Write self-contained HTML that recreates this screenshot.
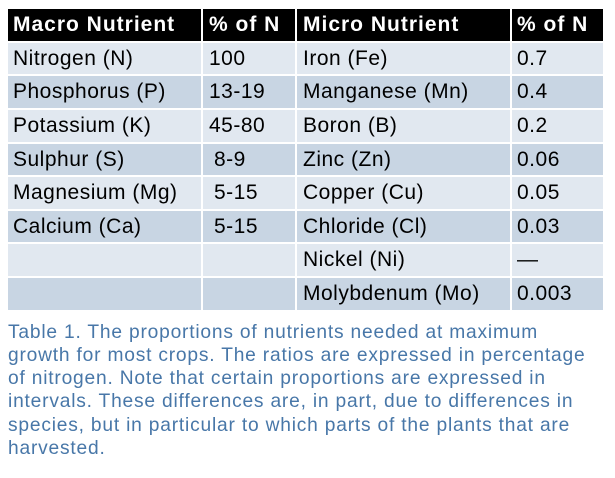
<!DOCTYPE html>
<html>
<head>
<meta charset="utf-8">
<style>
  html, body { margin:0; padding:0; }
  body { width:615px; height:478px; background:#ffffff; position:relative; overflow:hidden;
         font-family:"Liberation Sans", Arial, sans-serif; }
  .c { position:absolute; height:31.6px; line-height:31.6px; font-size:21px; letter-spacing:0.5px;
       color:#000; white-space:nowrap; box-sizing:border-box; }
  .h { background:#000; color:#fff; font-weight:bold; letter-spacing:1px; height:32px; line-height:32px; }
  .l { background:#e1e8f0; }
  .d { background:#c8d5e3; }
  .c1 { left:8px; width:193px; padding-left:5px; }
  .c2 { left:203px; width:92px; padding-left:6px; }
  .c3 { left:297px; width:213px; padding-left:6px; }
  .c4 { left:512px; width:91px; padding-left:5px; }
  .ind { padding-left:11px; }
  .cap { position:absolute; left:8px; top:320.5px; font-size:19.2px; letter-spacing:0.8px; line-height:23.3px;
         color:#4877a8; white-space:nowrap; }
</style>
</head>
<body>
  <!-- header -->
  <div class="c h c1" style="top:9px">Macro Nutrient</div>
  <div class="c h c2" style="top:9px">% of N</div>
  <div class="c h c3" style="top:9px">Micro Nutrient</div>
  <div class="c h c4" style="top:9px">% of N</div>

  <!-- row 1 -->
  <div class="c l c1" style="top:42.8px">Nitrogen (N)</div>
  <div class="c l c2" style="top:42.8px">100</div>
  <div class="c l c3" style="top:42.8px">Iron (Fe)</div>
  <div class="c l c4" style="top:42.8px">0.7</div>

  <!-- row 2 -->
  <div class="c d c1" style="top:76.4px">Phosphorus (P)</div>
  <div class="c d c2" style="top:76.4px">13-19</div>
  <div class="c d c3" style="top:76.4px">Manganese (Mn)</div>
  <div class="c d c4" style="top:76.4px">0.4</div>

  <!-- row 3 -->
  <div class="c l c1" style="top:110px">Potassium (K)</div>
  <div class="c l c2" style="top:110px">45-80</div>
  <div class="c l c3" style="top:110px">Boron (B)</div>
  <div class="c l c4" style="top:110px">0.2</div>

  <!-- row 4 -->
  <div class="c d c1" style="top:143.6px">Sulphur (S)</div>
  <div class="c d c2 ind" style="top:143.6px">8-9</div>
  <div class="c d c3" style="top:143.6px">Zinc (Zn)</div>
  <div class="c d c4" style="top:143.6px">0.06</div>

  <!-- row 5 -->
  <div class="c l c1" style="top:177.2px">Magnesium (Mg)</div>
  <div class="c l c2 ind" style="top:177.2px">5-15</div>
  <div class="c l c3" style="top:177.2px">Copper (Cu)</div>
  <div class="c l c4" style="top:177.2px">0.05</div>

  <!-- row 6 -->
  <div class="c d c1" style="top:210.8px">Calcium (Ca)</div>
  <div class="c d c2 ind" style="top:210.8px">5-15</div>
  <div class="c d c3" style="top:210.8px">Chloride (Cl)</div>
  <div class="c d c4" style="top:210.8px">0.03</div>

  <!-- row 7 -->
  <div class="c l c1" style="top:244.4px"></div>
  <div class="c l c2" style="top:244.4px"></div>
  <div class="c l c3" style="top:244.4px">Nickel (Ni)</div>
  <div class="c l c4" style="top:244.4px">—</div>

  <!-- row 8 -->
  <div class="c d c1" style="top:278px"></div>
  <div class="c d c2" style="top:278px"></div>
  <div class="c d c3" style="top:278px">Molybdenum (Mo)</div>
  <div class="c d c4" style="top:278px">0.003</div>

  <div class="cap">Table 1. The proportions of nutrients needed at maximum<br>growth for most crops. The ratios are expressed in percentage<br>of nitrogen. Note that certain proportions are expressed in<br>intervals. These differences are, in part, due to differences in<br>species, but in particular to which parts of the plants that are<br>harvested.</div>
</body>
</html>
